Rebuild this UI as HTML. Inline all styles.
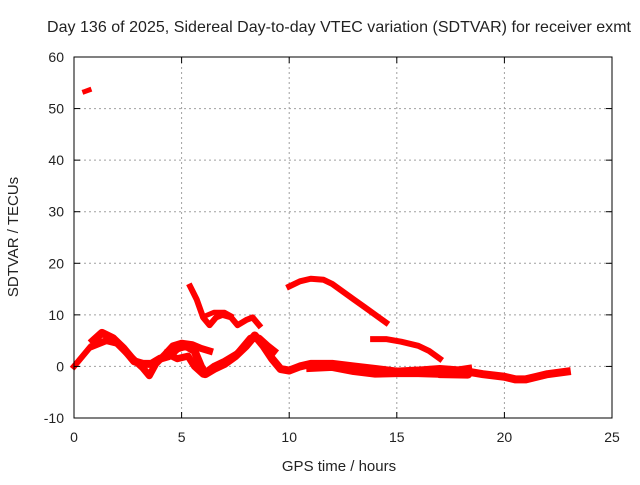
<!DOCTYPE html>
<html><head><meta charset="utf-8"><style>
body{margin:0;background:#fff}
svg text{font-family:"Liberation Sans",sans-serif;font-size:14px;fill:#222}
</style></head><body>
<svg id="c" width="640" height="480">
<rect width="640" height="480" fill="#fff"/>
<g id="grid"></g><g id="marks"></g><g id="axes"></g>
<text x="339" y="32" text-anchor="middle" style="font-size:16px" textLength="584">Day 136 of 2025, Sidereal Day-to-day VTEC variation (SDTVAR) for receiver exmt</text>
<text x="339" y="471" text-anchor="middle" style="font-size:15px">GPS time / hours</text>
<text transform="translate(18,237) rotate(-90)" text-anchor="middle" style="font-size:15px">SDTVAR / TECUs</text>
</svg>
<script>
const xTicks=[0,5,10,15,20,25];
const yTicks=[-10,0,10,20,30,40,50,60];
const seriesOutlier=[[0.5,53.3],[0.7,53.6]];
const seriesStart=[[0.0,0],[0.2,1],[0.5,2.5],[0.7,3.5]];
const seriesMain=[[0.9,5],[1.3,6.5],[1.8,5.5],[2.3,3.5],[2.8,1],[3.2,0.5],[3.6,0.5],[4.0,1.5],[4.4,2],[4.8,3.5],[5.2,4],[5.6,3],[5.9,0],[6.1,-1.5],[6.5,-0.5],[7,0.5],[7.5,2],[8,4],[8.4,6],[8.8,4],[9.2,1.5],[9.6,-0.5],[10,-0.8],[10.5,0],[11,0.5],[12,0.5],[13,0],[14,-0.5],[15,-1],[16,-0.8],[17,-0.5],[18,-0.8],[19,-1.5],[20,-2],[20.5,-2.5],[21,-2.5],[21.5,-2],[22,-1.5],[22.9,-1]];
const seriesMain2=[[0.9,4],[1.5,5],[2,4.5],[2.6,2],[3.2,-0.3],[3.5,-1.8],[3.8,0.5],[4.2,2.2],[4.6,4],[5,4.5],[5.5,4.2],[5.9,3.5],[6.3,3]];
const seriesMain3=[[4.3,2.5],[4.8,1.5],[5.3,2],[5.6,0],[6,-1.5],[6.5,0],[7,1],[7.6,2.5],[8.2,5.5],[8.6,5.5],[9,4],[9.3,3]];
const seriesMain4=[[11,-0.2],[12,0],[13,-0.8],[14,-1.3],[15,-1.2],[16,-1.2],[18.3,-1.5],[17,-1.4],[18.3,-0.6]];
const seriesLoop=[[5.4,15.5],[5.7,13],[6,9.5],[6.3,8],[6.6,9.5],[6.9,10],[7.3,9.5],[7.6,8],[8,9],[8.3,9.5],[8.6,8]];
const seriesLoop2=[[6.1,9.8],[6.5,10.5],[7,10.5],[7.3,9.8]];
const seriesArc=[[10,15.5],[10.5,16.5],[11,17],[11.6,16.8],[12,16],[12.5,14.5],[13,13],[13.5,11.5],[14,10],[14.5,8.5]];
const seriesTail=[[13.9,5.3],[14.5,5.3],[15.2,4.8],[16,4],[16.5,3],[17,1.5]];
const X0=74,X1=612,Y0=418,Y1=57;
const sx=h=>X0+(h-0)/(25-0)*(X1-X0);
const sy=v=>Y0-(v+10)/(70)*(Y0-Y1);
const NS="http://www.w3.org/2000/svg";
function mk(t,a,p){const e=document.createElementNS(NS,t);for(const k in a)e.setAttribute(k,a[k]);p.appendChild(e);return e;}
const grid=document.getElementById('grid'),axes=document.getElementById('axes'),marks=document.getElementById('marks');
xTicks.forEach(t=>{const x=sx(t);
 if(t>0&&t<25){const g=mk('line',{x1:x,x2:x,y1:Y1,y2:Y0,stroke:'#a0a0a0','stroke-dasharray':'2,3'},grid);
 
 }
 mk('line',{x1:x,x2:x,y1:Y0,y2:Y0-6,stroke:'#000'},axes);mk('line',{x1:x,x2:x,y1:Y1,y2:Y1+6,stroke:'#000'},axes);
 const l=mk('text',{x:x,y:Y0+24,'text-anchor':'middle'},axes);l.textContent=t;
 
 });
yTicks.forEach(t=>{const y=sy(t);
 if(t>-10&&t<60){const g=mk('line',{x1:X0,x2:X1,y1:y,y2:y,stroke:'#a0a0a0','stroke-dasharray':'2,3'},grid);
 
 }
 mk('line',{x1:X0,x2:X0+6,y1:y,y2:y,stroke:'#000'},axes);mk('line',{x1:X1,x2:X1-6,y1:y,y2:y,stroke:'#000'},axes);
 const l=mk('text',{x:X0-10,y:y+5,'text-anchor':'end'},axes);l.textContent=t;
 
 });
const fr=mk('rect',{x:X0,y:Y1,width:X1-X0,height:Y0-Y1,fill:'none',stroke:'#000'},axes);


[[seriesOutlier,5],[seriesStart,6],[seriesMain,8],[seriesMain2,7],[seriesMain3,7],[seriesMain4,9],[seriesLoop,6],[seriesLoop2,5],[seriesArc,6],[seriesTail,6]].forEach(([s,w])=>{
 const p=mk('polyline',{points:s.map(d=>sx(d[0])+','+sy(d[1])).join(' '),fill:'none',stroke:'#f00','stroke-width':w,'stroke-linejoin':'round','stroke-linecap':'square'},marks);
 
 });
</script>
</body></html>
